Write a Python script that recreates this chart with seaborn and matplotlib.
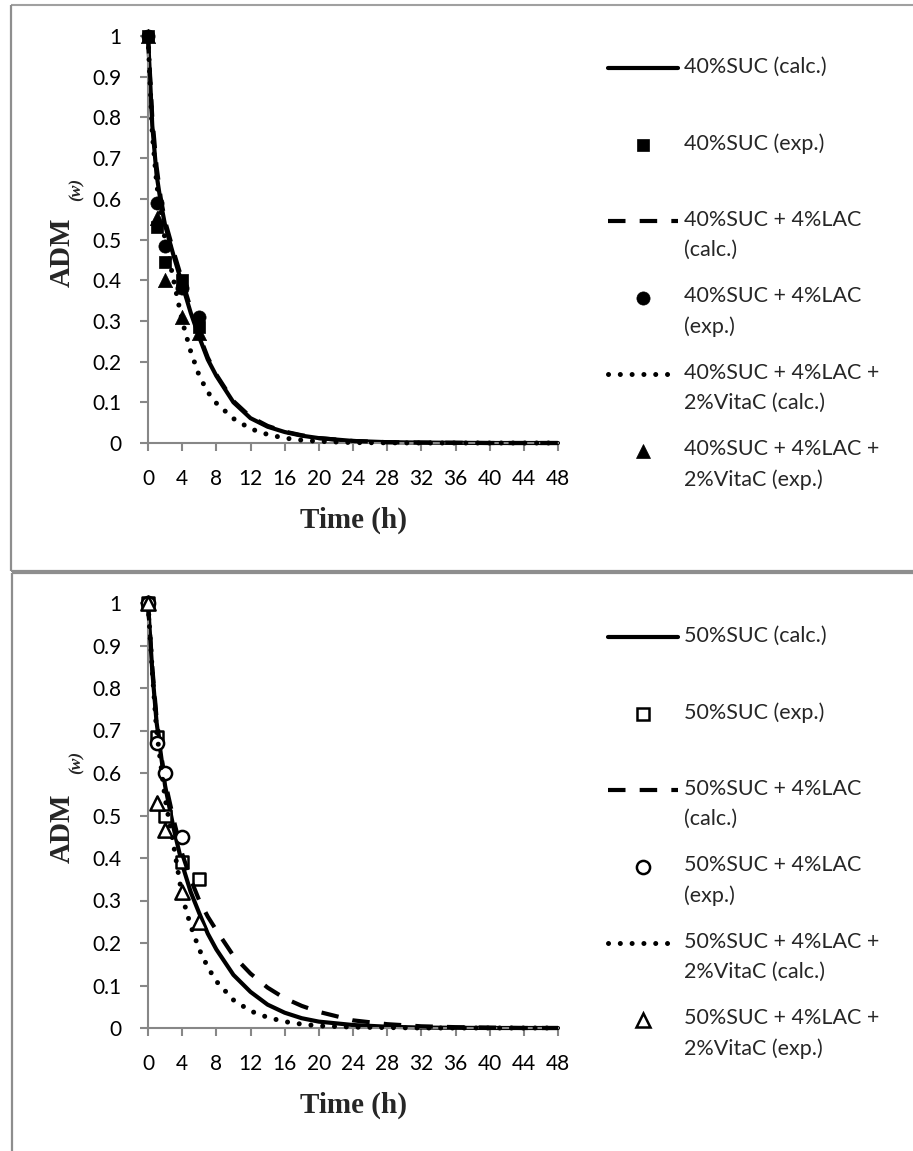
import numpy as np
import pandas as pd
import matplotlib
matplotlib.use("Agg")
import matplotlib.pyplot as plt
import matplotlib.transforms as mtransforms
from matplotlib.lines import Line2D
from matplotlib.legend_handler import HandlerLine2D
from matplotlib.font_manager import FontProperties
import seaborn as sns

# ---------------- data ----------------
TIME = [0, 0.5, 1, 1.5, 2, 3, 4, 5, 6, 7, 8, 10, 12, 14, 16, 18, 20, 24, 28, 32, 36, 40, 44, 48]

SUC40_CALC = [1.0, 0.78, 0.66, 0.59, 0.535, 0.46, 0.39, 0.32, 0.26, 0.205, 0.165, 0.10, 0.061,
              0.040, 0.027, 0.018, 0.012, 0.005, 0.002, 0.001, 0.0005, 0.0, 0.0, 0.0]
SUC40_LAC_CALC = [1.0, 0.80, 0.68, 0.60, 0.545, 0.47, 0.40, 0.33, 0.265, 0.21, 0.168, 0.103, 0.064,
                  0.042, 0.028, 0.019, 0.012, 0.005, 0.002, 0.001, 0.0005, 0.0, 0.0, 0.0]
SUC40_LAC_VITC_CALC = [1.0, 0.76, 0.64, 0.56, 0.50, 0.40, 0.30, 0.225, 0.165, 0.125, 0.098, 0.060,
                       0.035, 0.021, 0.012, 0.007, 0.004, 0.001, 0.0005, 0.0, 0.0, 0.0, 0.0, 0.0]

SUC50_CALC = [1.0, 0.84, 0.72, 0.645, 0.57, 0.47, 0.385, 0.32, 0.27, 0.222, 0.185, 0.125, 0.085,
              0.055, 0.036, 0.023, 0.015, 0.007, 0.003, 0.001, 0.0005, 0.0, 0.0, 0.0]
SUC50_LAC_CALC = [1.0, 0.85, 0.73, 0.65, 0.58, 0.49, 0.41, 0.35, 0.30, 0.262, 0.23, 0.17, 0.128,
                  0.095, 0.07, 0.052, 0.038, 0.018, 0.009, 0.004, 0.002, 0.001, 0.0, 0.0]
SUC50_LAC_VITC_CALC = [1.0, 0.84, 0.70, 0.62, 0.54, 0.43, 0.31, 0.24, 0.185, 0.143, 0.11, 0.066,
                       0.040, 0.025, 0.015, 0.009, 0.005, 0.002, 0.001, 0.0, 0.0, 0.0, 0.0, 0.0]

EXP_TIME = [0, 1, 2, 4, 6]
SUC40_EXP = [1.0, 0.53, 0.445, 0.40, 0.285]
SUC40_LAC_EXP = [1.0, 0.59, 0.483, 0.38, 0.31]
SUC40_LAC_VITC_EXP = [1.0, 0.553, 0.40, 0.31, 0.27]

SUC50_EXP = [1.0, 0.685, 0.50, 0.39, 0.35]
SUC50_LAC_EXP_TIME = [0, 1, 2, 4]
SUC50_LAC_EXP = [1.0, 0.67, 0.60, 0.45]
SUC50_LAC_VITC_EXP = [1.0, 0.53, 0.465, 0.32, 0.25]

X_TICKS = [0, 4, 8, 12, 16, 20, 24, 28, 32, 36, 40, 44, 48]
Y_TICKS = [0, 0.1, 0.2, 0.3, 0.4, 0.5, 0.6, 0.7, 0.8, 0.9, 1.0]
Y_TICK_LABELS = ["0", "0.1", "0.2", "0.3", "0.4", "0.5", "0.6", "0.7", "0.8", "0.9", "1"]

LABELS_40 = ["40%SUC (calc.)", "40%SUC (exp.)", "40%SUC + 4%LAC\n(calc.)",
             "40%SUC + 4%LAC\n(exp.)", "40%SUC + 4%LAC +\n2%VitaC (calc.)",
             "40%SUC + 4%LAC +\n2%VitaC (exp.)"]
LABELS_50 = ["50%SUC (calc.)", "50%SUC (exp.)", "50%SUC + 4%LAC\n(calc.)",
             "50%SUC + 4%LAC\n(exp.)", "50%SUC + 4%LAC +\n2%VitaC (calc.)",
             "50%SUC + 4%LAC +\n2%VitaC (exp.)"]

# ---------------- style ----------------
sns.set_theme(style="ticks")
plt.rcParams["font.family"] = ["Lato", "DejaVu Sans"]

W, H, DPI = 913, 1151, 100
fig = plt.figure(figsize=(W / DPI, H / DPI), dpi=DPI)

AX_GRAY = "#878787"
TICK_FS = 15
LEG_FS = 15.5
LABEL_FS = 21

SOLID = dict(color="black", lw=3.0, linestyle="-")
DASHED = dict(color="black", lw=3.0, linestyle=(0, (4.2, 3.4)))
DOTTED = dict(color="black", lw=3.6, linestyle=(0, (0.01, 2.35)), dash_capstyle="round")


def fx(px):
    return px / W


def fy(py):
    return 1 - py / H


def border(x0, y0, x1, y1, lw=1.6, color="#8e8e8e"):
    fig.add_artist(Line2D([fx(x0), fx(x1)], [fy(y0), fy(y1)], transform=fig.transFigure,
                          color=color, lw=lw, solid_capstyle="butt"))


# panel frames
border(11, 5, 913, 5, lw=1.5, color="#a0a0a0")
border(11, 5, 11, 571)
border(11, 571, 913, 571, lw=1.6)
border(12, 573, 913, 573, lw=1.6)
border(12, 573, 12, 1151)

# line pitch for the two-line legend labels
renderer = fig.canvas.get_renderer()
fp = FontProperties(family=["Lato", "DejaVu Sans"], size=LEG_FS)
_, lp_h, lp_d = renderer.get_text_width_height_descent("lp", fp, ismath=False)
PITCH_PX = 30.0
LINESP = (PITCH_PX - lp_d) / (lp_h - lp_d)
ENTRY_PX = 76.0
fs_px = LEG_FS * DPI / 72
LABELSP = (ENTRY_PX - (lp_h + PITCH_PX)) / fs_px
HANDLE_SHIFT_PX = 14.0


class FirstLineHandler(HandlerLine2D):
    def __init__(self, dy, **kw):
        super().__init__(**kw)
        self.dy = dy

    def create_artists(self, legend, orig_handle, xdescent, ydescent, width, height,
                       fontsize, trans):
        arts = super().create_artists(legend, orig_handle, xdescent, ydescent, width,
                                      height, fontsize, trans)
        t = mtransforms.Affine2D().translate(0, self.dy) + trans
        for a in arts:
            a.set_transform(t)
        return arts


def panel(top_px, bot_px, calc, exps, labels, filled, leg_top_px):
    ax = fig.add_axes([fx(148), fy(bot_px), fx(558) - fx(148), (bot_px - top_px) / H])
    styles = [SOLID, DASHED, DOTTED]
    markers = [("s", 74), ("o", 90), ("^", 105)]
    handles = []
    for i in range(3):
        st = styles[i]
        df = pd.DataFrame({"t": TIME, "v": calc[i]})
        sns.lineplot(data=df, x="t", y="v", ax=ax, estimator=None, sort=False,
                     clip_on=False, zorder=2 + 2 * i, **st)
        handles.append(Line2D([], [], **st))
        mk, s = markers[i]
        et, ev = exps[i]
        dfe = pd.DataFrame({"t": et, "v": ev})
        if filled:
            sns.scatterplot(data=dfe, x="t", y="v", ax=ax, marker=mk, s=s, color="black",
                            edgecolor="black", linewidth=0.5, clip_on=False, zorder=3 + 2 * i)
            handles.append(Line2D([], [], ls="none", marker=mk, markersize=np.sqrt(s),
                                  color="black", markeredgewidth=0.5))
        else:
            sns.scatterplot(data=dfe, x="t", y="v", ax=ax, marker=mk, s=s, color="white",
                            edgecolor="black", linewidth=1.8, clip_on=False, zorder=3 + 2 * i)
            handles.append(Line2D([], [], ls="none", marker=mk, markersize=np.sqrt(s),
                                  markerfacecolor="white", markeredgecolor="black",
                                  markeredgewidth=1.8))
    ax.set_xlim(0, 48)
    ax.set_ylim(0, 1)
    ax.set_xticks(X_TICKS)
    ax.set_xticklabels([str(v) for v in X_TICKS])
    ax.set_yticks(Y_TICKS)
    ax.set_yticklabels(Y_TICK_LABELS)
    for side in ("top", "right"):
        ax.spines[side].set_visible(False)
    for side in ("left", "bottom"):
        ax.spines[side].set_color(AX_GRAY)
        ax.spines[side].set_linewidth(1.5)
    ax.tick_params(axis="both", direction="out", length=6, width=1.5, color=AX_GRAY,
                   labelsize=TICK_FS, labelcolor="black", pad=13)
    hpx = bot_px - top_px
    ax.set_xlabel("Time (h)", family="Liberation Serif", weight="bold", fontsize=LABEL_FS)
    ax.xaxis.set_label_coords(0.5, -64 / hpx)
    ax.set_ylabel("")
    # y-axis title: "ADM" with a small bold-italic "(w)" subscript
    ax.text((62 - 148) / 410, 1 - 216 / 407, "ADM", transform=ax.transAxes, rotation=90,
            ha="center", va="center", family="Liberation Serif", weight="bold",
            fontsize=LABEL_FS)
    ax.text((77 - 148) / 410, 1 - 153 / 407, "(w)", transform=ax.transAxes, rotation=90,
            ha="center", va="center", family="Liberation Serif", weight="bold",
            style="italic", fontsize=12.5)

    # legend labels: every entry two lines so all entries are equally tall
    labs = [l if "\n" in l else l + "\n" for l in labels]
    leg = fig.legend(handles, labs, loc="upper left",
                     bbox_to_anchor=(fx(608), fy(leg_top_px)),
                     frameon=False, fontsize=LEG_FS, borderpad=0, borderaxespad=0,
                     handlelength=70 / fs_px, handletextpad=6 / fs_px, numpoints=1,
                     labelspacing=LABELSP,
                     handler_map={Line2D: FirstLineHandler(HANDLE_SHIFT_PX * 72 / DPI)})
    for t in leg.get_texts():
        t.set_linespacing(LINESP)
    return ax


panel(36, 443, [SUC40_CALC, SUC40_LAC_CALC, SUC40_LAC_VITC_CALC],
      [(EXP_TIME, SUC40_EXP), (EXP_TIME, SUC40_LAC_EXP), (EXP_TIME, SUC40_LAC_VITC_EXP)],
      LABELS_40, True, 57)
panel(603, 1028, [SUC50_CALC, SUC50_LAC_CALC, SUC50_LAC_VITC_CALC],
      [(EXP_TIME, SUC50_EXP), (SUC50_LAC_EXP_TIME, SUC50_LAC_EXP),
       (EXP_TIME, SUC50_LAC_VITC_EXP)],
      LABELS_50, False, 626)

fig.savefig("out.png", dpi=DPI)
